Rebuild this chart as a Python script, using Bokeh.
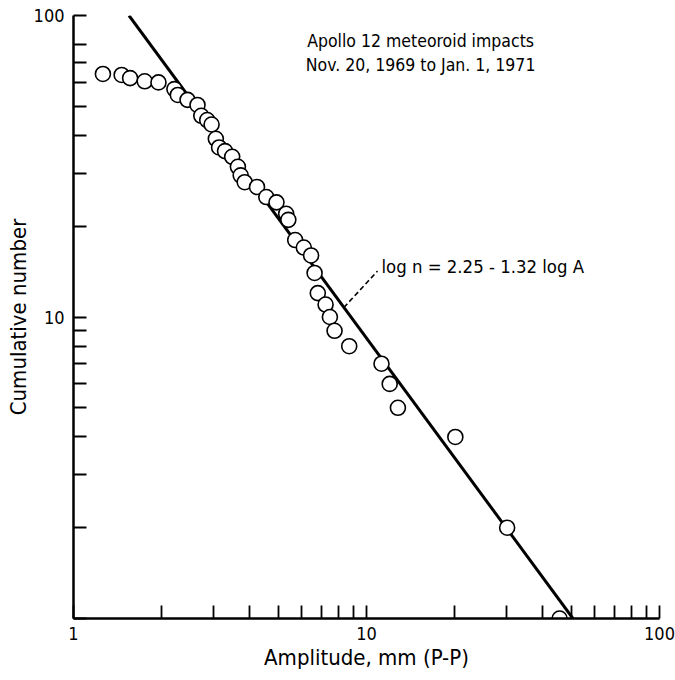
import numpy as np
from bokeh.plotting import figure
from bokeh.models import Range1d, FixedTicker, Label, PrintfTickFormatter
from bokeh.embed import file_html
from bokeh.resources import INLINE

# Data
amplitude = [1.26, 1.46, 1.56, 1.75, 1.95, 2.21, 2.27, 2.45, 2.65, 2.73,
             2.86, 2.96, 3.06, 3.14, 3.29, 3.48, 3.64, 3.72, 3.84, 4.23,
             4.55, 4.93, 5.32, 5.41, 5.71, 6.11, 6.47, 6.65, 6.82, 7.25,
             7.50, 7.78, 8.73, 11.25, 12.0, 12.8, 20.1, 30.2, 45.6]
cumulative = [64, 63.5, 62, 60.5, 60, 57, 54.5, 52.5, 50.5, 46.5,
              45, 43.5, 39, 36.5, 35.5, 34, 31.5, 29.5, 28, 27,
              25, 24, 22, 21, 18, 17, 16, 14, 12, 11,
              10, 9, 8, 7, 6, 5, 4, 2, 1]

fit_intercept = 2.25
fit_slope = -1.32

x_major = [1, 10, 100]
x_minor = [2, 3, 4, 5, 6, 7, 8, 9, 20, 30, 40, 50, 60, 70, 80, 90]
y_major = [1, 10, 100]
y_minor = [2, 3, 4, 5, 6, 7, 8, 9, 20, 30, 40, 50, 60, 70, 80]

title_lines = ["Apollo 12 meteoroid impacts", "Nov. 20, 1969 to Jan. 1, 1971"]
fit_text = "log n = 2.25 - 1.32 log A"

FONT = "DejaVu Sans Condensed"

p = figure(width=675, height=680, x_axis_type="log", y_axis_type="log",
           x_range=Range1d(1, 100), y_range=Range1d(1, 100),
           output_backend="svg", toolbar_location=None,
           min_border_left=73, min_border_right=16,
           min_border_top=15, min_border_bottom=62)
p.outline_line_color = None
p.xgrid.visible = False
p.ygrid.visible = False
p.background_fill_color = "white"
p.border_fill_color = "white"

for ax, maj, mnr in ((p.xaxis[0], x_major, x_minor), (p.yaxis[0], y_major, y_minor)):
    ax.ticker = FixedTicker(ticks=maj, minor_ticks=mnr)
    ax.formatter = PrintfTickFormatter(format="%d")
    ax.axis_line_width = 2.5
    ax.axis_line_color = "black"
    ax.major_tick_in = 13
    ax.major_tick_out = 0
    ax.minor_tick_in = 13
    ax.minor_tick_out = 0
    ax.major_tick_line_width = 1.8
    ax.minor_tick_line_width = 1.8
    ax.major_tick_line_color = "black"
    ax.minor_tick_line_color = "black"
    ax.major_label_text_font = FONT
    ax.major_label_text_font_size = "18px"
    ax.major_label_text_color = "black"
    ax.axis_label_text_font = FONT
    ax.axis_label_text_font_size = "22px"
    ax.axis_label_text_font_style = "normal"
    ax.axis_label_text_color = "black"

# The corner "1" is shown only once, under the horizontal axis
p.yaxis.major_label_overrides = {1: ""}

p.xaxis.axis_label = "Amplitude, mm (P-P)"
p.yaxis.axis_label = "Cumulative number"
p.xaxis.major_label_standoff = 8
p.yaxis.major_label_standoff = 9
p.xaxis.axis_label_standoff = 2
p.yaxis.axis_label_standoff = 0

# Fitted line log n = a + b log A, from n = 100 down to n = 1
n_ends = np.array([100.0, 1.0])
a_ends = 10 ** ((np.log10(n_ends) - fit_intercept) / fit_slope)
p.line(a_ends, n_ends, line_color="black", line_width=3)

# Data points
p.scatter(amplitude, cumulative, size=15, marker="circle",
          fill_color="white", line_color="black", line_width=1.6)

# Leader line to the fit equation (dashed)
p.line([8.37, 10.9], [10.75, 14.2], line_color="black", line_width=1.6, line_dash="5 3")

p.add_layout(Label(x=11.25, y=14.75, text=fit_text, text_font=FONT,
                   text_font_size="18.4px", text_align="left",
                   text_baseline="alphabetic", text_color="black"))
p.add_layout(Label(x=15.3, y=82, text=title_lines[0], text_font=FONT,
                   text_font_size="17.5px", text_align="center",
                   text_baseline="middle", text_color="black"))
p.add_layout(Label(x=15.3, y=68.5, text=title_lines[1], text_font=FONT,
                   text_font_size="17.5px", text_align="center",
                   text_baseline="middle", text_color="black"))

open("out.html", "w").write(file_html(p, INLINE))
